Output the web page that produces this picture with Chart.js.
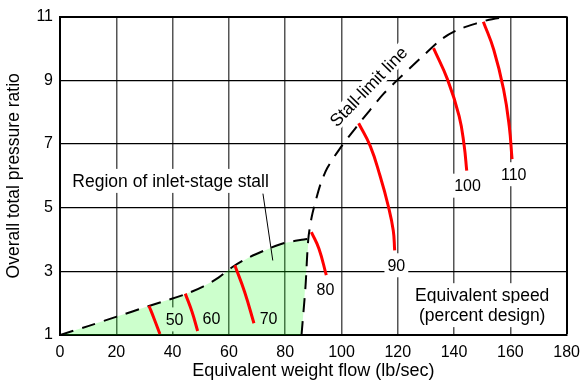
<!DOCTYPE html>
<html>
<head>
<meta charset="utf-8">
<script src="https://cdn.jsdelivr.net/npm/chart.js@4.4.0/dist/chart.umd.min.js"></script>
<style>
  html, body { margin: 0; padding: 0; background: #fff; }
  #wrap { width: 588px; height: 385px; }
</style>
</head>
<body>
<div id="wrap"><canvas id="stallChart"></canvas></div>
<script>
// tick values
const xTicks = [0, 20, 40, 60, 80, 100, 120, 140, 160, 180];
const yTicks = [1, 3, 5, 7, 9, 11];

// inlet-stage stall boundary (dashed, lower left)
const inletX = [0, 10, 19.9, 31.6, 44.5, 51, 56.3, 61, 67.4, 74.4, 79.7, 86.7, 88.3];
const inletY = [1, 1.28, 1.57, 1.91, 2.28, 2.53, 2.8, 3.12, 3.45, 3.72, 3.89, 4.0, 4.02];
// where the shaded region closes down to the axis
const inletCornerX = [85.9];
const inletCornerY = [1];

// stall-limit line
const stallX = [85.8, 87.2, 88.2, 89.4, 90.8, 92.6, 95, 99, 105, 110, 115, 120, 125.4, 130, 135.7, 141.2, 147.7, 153.5, 161.7, 180];
const stallY = [1, 2.5, 4.0, 4.7, 5.2, 5.75, 6.25, 6.8, 7.5, 8.05, 8.58, 9.02, 9.47, 9.85, 10.3, 10.58, 10.78, 10.92, 11, 11];

// constant equivalent speed lines (percent design)
const speeds = ['50', '60', '70', '80', '90', '100', '110'];
const speedX = [
  [31.6, 33.4, 35.5],
  [44.5, 46.9, 48.9],
  [62.1, 65.6, 68.9],
  [89.3, 92.0, 94.6],
  [106.1, 110.2, 113.7, 116.6, 118.4, 118.9],
  [132.7, 137.7, 141.8, 143.6, 144.5],
  [150.4, 154.1, 157.6, 159.6, 160.6]
];
const speedY = [
  [1.92, 1.52, 1.03],
  [2.30, 1.73, 1.125],
  [3.19, 2.35, 1.37],
  [4.23, 3.71, 2.88],
  [7.65, 6.94, 6.0, 5.06, 4.28, 3.66],
  [10.01, 9.02, 7.875, 6.94, 6.16],
  [10.84, 9.96, 8.71, 7.56, 6.52]
];

const FONT = 'Arial, "Liberation Sans", sans-serif';
const GREEN_BG = 'rgb(204,255,204)';

// text annotations, placed in data units
const notes = [
  { text: '50', x: 40.7, y: 1.49, bg: GREEN_BG, size: 16 },
  { text: '60', x: 53.8, y: 1.5, bg: GREEN_BG, size: 16 },
  { text: '70', x: 74.1, y: 1.5, bg: GREEN_BG, size: 16 },
  { text: '80', x: 94.3, y: 2.43, bg: '#fff', size: 16 },
  { text: '90', x: 119.5, y: 3.19, bg: '#fff', size: 16 },
  { text: '100', x: 144.8, y: 5.69, bg: '#fff', size: 16 },
  { text: '110', x: 161.2, y: 6.05, bg: '#fff', size: 16 },
  { text: 'Stall-limit line', x: 109.6, y: 8.8, rot: -46, bg: '#fff', size: 17.5, h: 18 },
  { text: 'Region of inlet-stage stall', x: 39.3, y: 5.84, bg: '#fff', size: 17.5 },
  { text: 'Equivalent speed', x: 150, y: 2.25, bg: '#fff', size: 17.5 },
  { text: '(percent design)', x: 150, y: 1.625, bg: '#fff', size: 17.5 }
];
const pointerX = [72.1, 75.6];
const pointerY = [5.44, 3.34];

function pts(xs, ys) {
  return xs.map((v, i) => ({ x: v, y: ys[i] }));
}

const datasets = [];

// shaded region, drawn behind everything
datasets.push({
  data: pts(inletX.concat(inletCornerX), inletY.concat(inletCornerY)),
  showLine: true,
  borderWidth: 0,
  borderColor: 'rgba(0,0,0,0)',
  backgroundColor: 'rgba(0,255,0,0.2)',
  fill: 'shape',
  tension: 0,
  pointRadius: 0,
  order: 10
});

// dashed boundaries
datasets.push({
  data: pts(inletX, inletY),
  showLine: true,
  borderColor: '#000',
  borderWidth: 2,
  borderDash: [14, 9],
  tension: 0.3,
  pointRadius: 0,
  fill: false,
  order: 2
});
datasets.push({
  data: pts(stallX, stallY),
  showLine: true,
  borderColor: '#000',
  borderWidth: 2,
  borderDash: [14, 9],
  tension: 0.3,
  pointRadius: 0,
  fill: false,
  order: 2
});

speeds.forEach((s, i) => {
  datasets.push({
    label: s,
    data: pts(speedX[i], speedY[i]),
    showLine: true,
    borderColor: '#ff0000',
    borderWidth: 3,
    tension: 0.45,
    pointRadius: 0,
    fill: false,
    order: 1
  });
});

const labelPlugin = {
  id: 'notes',
  afterDraw(chart) {
    const { ctx, scales: { x, y } } = chart;
    ctx.save();
    ctx.textAlign = 'center';
    ctx.textBaseline = 'middle';
    notes.forEach(n => {
      ctx.font = n.size + 'px ' + FONT;
      const px = x.getPixelForValue(n.x);
      const py = y.getPixelForValue(n.y);
      const w = ctx.measureText(n.text).width;
      const h = n.h || 24;
      ctx.save();
      ctx.translate(px, py);
      ctx.rotate((n.rot || 0) * Math.PI / 180);
      ctx.fillStyle = n.bg;
      ctx.fillRect(-w / 2 - 3, -h / 2, w + 6, h);
      ctx.fillStyle = '#000';
      ctx.fillText(n.text, 0, 1);
      ctx.restore();
    });
    // pointer from the region label
    ctx.beginPath();
    ctx.moveTo(x.getPixelForValue(pointerX[0]), y.getPixelForValue(pointerY[0]));
    ctx.lineTo(x.getPixelForValue(pointerX[1]), y.getPixelForValue(pointerY[1]));
    ctx.strokeStyle = '#000';
    ctx.lineWidth = 1;
    ctx.stroke();
    ctx.restore();
  }
};

new Chart(document.getElementById('stallChart'), {
  type: 'scatter',
  data: { datasets: datasets },
  plugins: [labelPlugin],
  options: {
    responsive: true,
    maintainAspectRatio: false,
    animation: false,
    layout: { padding: { top: 16, right: 16, left: 0, bottom: 0 } },
    plugins: {
      legend: { display: false },
      tooltip: { enabled: false }
    },
    scales: {
      x: {
        type: 'linear',
        min: 0,
        max: 180,
        afterBuildTicks: s => { s.ticks = xTicks.map(v => ({ value: v })); },
        afterFit: s => { s.height = 50; },
        ticks: { color: '#000', font: { family: FONT, size: 16 }, padding: 8, maxRotation: 0 },
        grid: {
          drawTicks: false,
          color: c => (c.tick && c.tick.value === 180) ? '#000' : '#555',
          lineWidth: c => (c.tick && c.tick.value === 180) ? 2 : 1.5
        },
        border: { display: true, color: '#000', width: 2 },
        title: {
          display: true,
          text: 'Equivalent weight flow (lb/sec)',
          color: '#000',
          font: { family: FONT, size: 18 },
          padding: { top: 0, bottom: 3 }
        }
      },
      y: {
        type: 'linear',
        min: 1,
        max: 11,
        afterBuildTicks: s => { s.ticks = yTicks.map(v => ({ value: v })); },
        afterFit: s => { s.width = 60; },
        ticks: { color: '#000', font: { family: FONT, size: 16 }, padding: 7 },
        grid: {
          drawTicks: false,
          color: '#000',
          lineWidth: c => (c.tick && c.tick.value === 11) ? 2 : 1.2
        },
        border: { display: true, color: '#000', width: 2 },
        title: {
          display: true,
          text: 'Overall total pressure ratio',
          color: '#000',
          font: { family: FONT, size: 17.5 },
          padding: { top: 4, bottom: 0 }
        }
      }
    }
  }
});
</script>
</body>
</html>
